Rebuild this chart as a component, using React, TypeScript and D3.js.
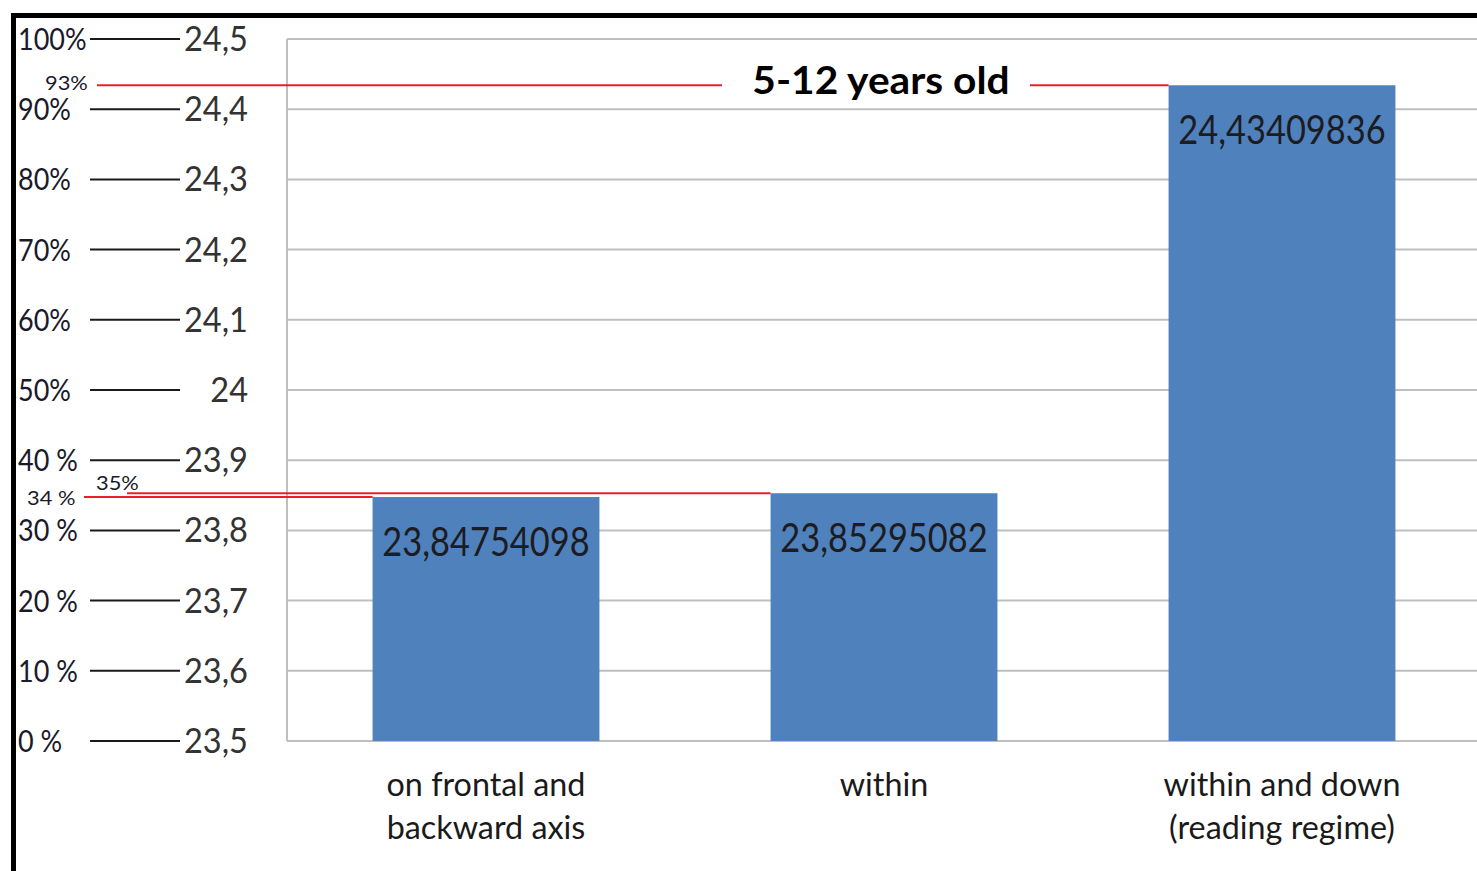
import React from "react";
import * as d3 from "d3";

// Categories (each entry holds the label lines under the bar)
const categories: string[][] = [
  ["on frontal and", "backward axis"],
  ["within"],
  ["within and down", "(reading regime)"],
];

// Mean values per category
const values: number[] = [23.84754098, 23.85295082, 24.43409836];

// Value axis ticks and matching percentage labels
const yTicks: number[] = [23.5, 23.6, 23.7, 23.8, 23.9, 24.0, 24.1, 24.2, 24.3, 24.4, 24.5];
const percentLabels: string[] = ["0 %", "10 %", "20 %", "30 %", "40 %", "50%", "60%", "70%", "80%", "90%", "100%"];

// Percentage markers for each bar's height
const markerLabels: string[] = ["34 %", "35%", "93%"];

const title = "5-12 years old";

const W = 1477;
const H = 871;
const FONT = "Lato, 'Open Sans', 'DejaVu Sans', sans-serif";

const locale = d3.formatLocale({ decimal: ",", thousands: ".", grouping: [3], currency: ["", "€"] });
const fmtTick = locale.format(".1~f");
const fmtValue = locale.format(".8f");

type STextProps = {
  x: number;
  y: number;
  sx?: number;
  anchor?: "start" | "middle" | "end";
  size: number;
  weight?: number | string;
  fill?: string;
  children: React.ReactNode;
};

// Text with a horizontal condensing factor
function SText({ x, y, sx = 1, anchor = "start", size, weight = 400, fill = "#1a1a1a", children }: STextProps) {
  return (
    <text
      transform={`translate(${x},${y}) scale(${sx},1)`}
      textAnchor={anchor}
      fontFamily={FONT}
      fontSize={size}
      fontWeight={weight}
      fill={fill}
    >
      {children}
    </text>
  );
}

export default function App() {
  const plotLeft = 287;
  const plotRight = 1481;
  const y = d3.scaleLinear().domain([23.5, 24.5]).range([741, 39]);
  const x = d3
    .scaleBand<number>()
    .domain(values.map((_, i) => i))
    .range([plotLeft, plotRight])
    .paddingInner(0.43)
    .paddingOuter(0.215);

  // Where each red marker line starts and where its percentage label sits
  const markerLayout = [
    { lineX: 84, lx: 27, ly: 8 },
    { lineX: 127, lx: 96, ly: -3 },
    { lineX: 97, lx: 45, ly: 5 },
  ];

  const titleX = x(1)! + x.bandwidth() / 2 - 3;
  const titleGap: [number, number] = [722, 1030];

  return (
    <svg
      width={W}
      height={H}
      viewBox={`0 0 ${W} ${H}`}
      style={{ position: "absolute", left: 0, top: 0, display: "block", background: "#fff" }}
    >
      <rect x={0} y={0} width={W} height={H} fill="#fff" />

      {/* horizontal gridlines */}
      {yTicks.map((t) => (
        <line key={`g${t}`} x1={plotLeft} x2={W} y1={y(t)} y2={y(t)} stroke="#bfbfbf" strokeWidth={2} />
      ))}
      {/* value axis line */}
      <line x1={plotLeft} x2={plotLeft} y1={y(24.5)} y2={y(23.5)} stroke="#bfbfbf" strokeWidth={2} />

      {/* bars */}
      {values.map((v, i) => (
        <rect key={`b${i}`} x={x(i)} y={y(v)} width={x.bandwidth()} height={y(23.5) - y(v)} fill="#4f81bd" />
      ))}

      {/* value labels inside bars */}
      {values.map((v, i) => (
        <SText key={`v${i}`} x={x(i)! + x.bandwidth() / 2} y={y(v) + 59} anchor="middle" size={40} sx={0.86} fill="#1c1c22">
          {fmtValue(v)}
        </SText>
      ))}

      {/* category labels */}
      {categories.map((lines, i) => (
        <g key={`c${i}`}>
          {lines.map((ln, j) => (
            <SText key={j} x={x(i)! + x.bandwidth() / 2} y={796 + j * 43} anchor="middle" size={32} sx={1.01} fill="#1a1a1a">
              {ln}
            </SText>
          ))}
        </g>
      ))}

      {/* tick labels: percentage, connector and value */}
      {yTicks.map((t, i) => (
        <g key={`t${t}`}>
          <SText x={18} y={y(t) + 11} size={31} sx={0.87} fill="#1a1a2a">
            {percentLabels[i]}
          </SText>
          <line x1={90} x2={180} y1={y(t)} y2={y(t)} stroke="#1a1a1a" strokeWidth={2} />
          <SText x={248} y={y(t) + 12} anchor="end" size={35} sx={0.93} fill="#333">
            {fmtTick(t)}
          </SText>
        </g>
      ))}

      {/* red marker lines at each bar's height */}
      {values.map((v, i) => {
        const yy = y(v);
        const x0 = markerLayout[i].lineX;
        const x1 = x(i)!;
        const segs: [number, number][] =
          i === 2 ? [[x0, titleGap[0]], [titleGap[1], x1]] : [[x0, x1]];
        return (
          <g key={`m${i}`}>
            {segs.map(([a, b], k) => (
              <line key={k} x1={a} x2={b} y1={yy} y2={yy} stroke="#e8202a" strokeWidth={2} />
            ))}
            <SText x={markerLayout[i].lx} y={yy + markerLayout[i].ly} size={19} sx={1.15} fill="#1a1a2a">
              {markerLabels[i]}
            </SText>
          </g>
        );
      })}

      {/* title on the marker line */}
      <SText x={titleX} y={y(values[2]) + 9} anchor="middle" size={38} sx={1.07} weight={700} fill="#000">
        {title}
      </SText>

      {/* outer frame */}
      <line x1={11} x2={W} y1={15.5} y2={15.5} stroke="#000" strokeWidth={5} />
      <line x1={13.5} x2={13.5} y1={13} y2={H} stroke="#000" strokeWidth={5} />
    </svg>
  );
}
